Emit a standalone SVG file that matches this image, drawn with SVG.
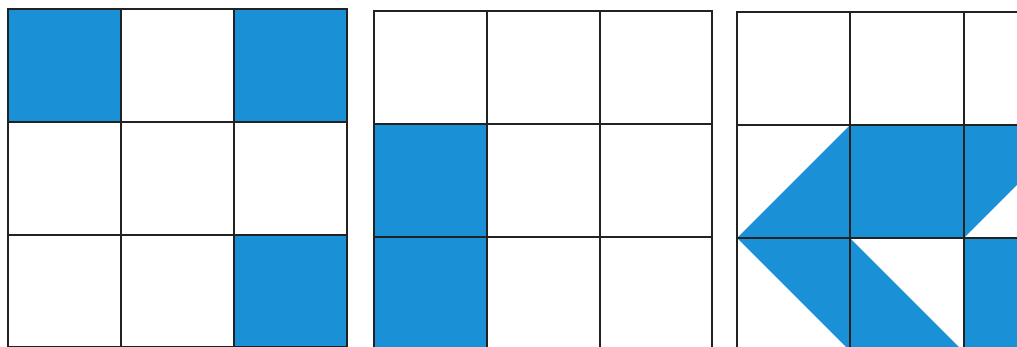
<svg xmlns="http://www.w3.org/2000/svg" width="1017" height="347" viewBox="0 0 1017 347">
<style>
.b{fill:#1a90d6;stroke:none}
.g{fill:none;stroke:#222;stroke-width:2}
</style>
<rect width="1017" height="347" fill="#fff"/>
<g id="grid1">
<rect class="b" x="8" y="9" width="113" height="113"/>
<rect class="b" x="234" y="9" width="113" height="113"/>
<rect class="b" x="234" y="234" width="113" height="113"/>
<path class="g" d="M8 9H347V347H8Z M121 9V347 M234 9V347 M8 122H347 M8 235H347"/>
</g>
<g id="grid2">
<rect class="b" x="374" y="124" width="113" height="226"/>
<path class="g" d="M374 11H712V350H374Z M487 11V350 M600 11V350 M374 124H712 M374 237H712"/>
</g>
<g id="grid3">
<polygon class="b" points="850,125 850,238 737,238"/>
<rect class="b" x="850" y="125" width="114" height="113"/>
<polygon class="b" points="964,125 1077,125 964,238"/>
<polygon class="b" points="737,238 850,238 850,351"/>
<polygon class="b" points="850,238 850,351 963,351"/>
<rect class="b" x="964" y="238" width="113" height="113"/>
<path class="g" d="M737 12H1077V351H737Z M850 12V351 M964 12V351 M737 125H1077 M737 238H1077"/>
</g>
</svg>
